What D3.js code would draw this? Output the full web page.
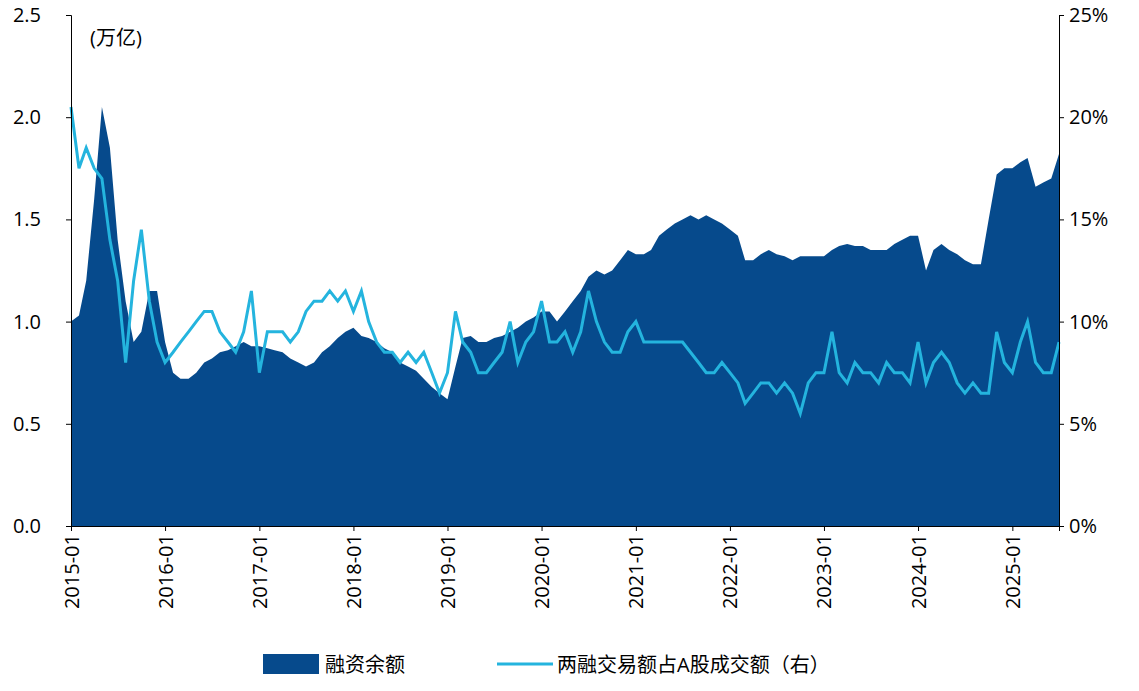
<!DOCTYPE html><html><head><meta charset="utf-8">
<script src="https://cdn.jsdelivr.net/npm/d3@7"></script>
<style>body{margin:0;background:#fff}text{font-family:"Open Sans","Noto Sans CJK SC",sans-serif}</style></head><body>
<svg id="c" width="1139" height="691"></svg>
<script>
const startMonth = "2015-01";
const balance = [1.0,1.03,1.2,1.6,2.05,1.85,1.4,1.1,0.9,0.95,1.15,1.15,
0.9,0.75,0.72,0.72,0.75,0.8,0.82,0.85,0.86,0.88,0.9,0.88,
0.88,0.87,0.86,0.85,0.82,0.8,0.78,0.8,0.85,0.88,0.92,0.95,
0.97,0.93,0.92,0.9,0.87,0.85,0.8,0.78,0.76,0.72,0.68,0.65,
0.62,0.78,0.92,0.93,0.9,0.9,0.92,0.93,0.95,0.97,1.0,1.02,
1.05,1.05,1.0,1.05,1.1,1.15,1.22,1.25,1.23,1.25,1.3,1.35,
1.33,1.33,1.35,1.42,1.45,1.48,1.5,1.52,1.5,1.52,1.5,1.48,
1.45,1.42,1.3,1.3,1.33,1.35,1.33,1.32,1.3,1.32,1.32,1.32,
1.32,1.35,1.37,1.38,1.37,1.37,1.35,1.35,1.35,1.38,1.4,1.42,
1.42,1.25,1.35,1.38,1.35,1.33,1.3,1.28,1.28,1.5,1.72,1.75,
1.75,1.78,1.8,1.66,1.68,1.7,1.82];
const ratio = [20.5,17.5,18.5,17.5,17,14,12,8,12,14.5,11,9,
8,8.5,9,9.5,10,10.5,10.5,9.5,9,8.5,9.5,11.5,
7.5,9.5,9.5,9.5,9,9.5,10.5,11,11,11.5,11,11.5,
10.5,11.5,10,9,8.5,8.5,8,8.5,8,8.5,7.5,6.5,
7.5,10.5,9,8.5,7.5,7.5,8,8.5,10,8,9,9.5,
11,9,9,9.5,8.5,9.5,11.5,10,9,8.5,8.5,9.5,
10,9,9,9,9,9,9,8.5,8,7.5,7.5,8,
7.5,7,6,6.5,7,7,6.5,7,6.5,5.5,7,7.5,
7.5,9.5,7.5,7,8,7.5,7.5,7,8,7.5,7.5,7,
9,7,8,8.5,8,7,6.5,7,6.5,6.5,9.5,8,
7.5,9,10,8,7.5,7.5,9];
const leftTicks = [0,0.5,1.0,1.5,2.0,2.5];
const rightTicks = [0,5,10,15,20,25];
const xTickLabels = ["2015-01","2016-01","2017-01","2018-01","2019-01","2020-01","2021-01","2022-01","2023-01","2024-01","2025-01"];
const legendLabels = ["融资余额","两融交易额占A股成交额（右）"];

const t0 = d3.timeParse("%Y-%m")(startMonth);
const dates = balance.map((_,i)=>d3.timeMonth.offset(t0,i));
const svg = d3.select("#c");
const L=71,R=1059,T=15,B=526;
const x = d3.scaleTime().domain([t0,dates[dates.length-1]]).range([L,R]);
const yL = d3.scaleLinear().domain([0,2.5]).range([B,T]);
const yR = d3.scaleLinear().domain([0,25]).range([B,T]);
const dark="#064a8c", light="#24b4de";

svg.append("path").datum(balance).attr("fill",dark)
 .attr("d",d3.area().x((d,i)=>x(dates[i])).y0(B).y1(d=>yL(d)));
svg.append("path").datum(ratio).attr("fill","none").attr("stroke",light).attr("stroke-width",3)
 .attr("d",d3.line().x((d,i)=>x(dates[i])).y(d=>yR(d)));

const ax = svg.append("g").attr("transform",`translate(0,${B})`)
 .call(d3.axisBottom(x).tickValues(xTickLabels.map(s=>d3.timeParse("%Y-%m")(s))).tickFormat(d3.timeFormat("%Y-%m")).tickSize(5));
ax.selectAll("text").attr("font-size",20).attr("fill","#000").attr("transform","rotate(-90)")
 .attr("text-anchor","end").attr("x",-8).attr("y",0).attr("dy","0.35em");
const al = svg.append("g").attr("transform",`translate(${L},0)`)
 .call(d3.axisLeft(yL).tickValues(leftTicks).tickFormat(d3.format(".1f")).tickSize(5));
al.selectAll("text").attr("font-size",20).attr("fill","#000").attr("x",-30);
const ar = svg.append("g").attr("transform",`translate(${R},0)`)
 .call(d3.axisRight(yR).tickValues(rightTicks).tickFormat(d=>d+"%").tickSize(5));
ar.selectAll("text").attr("font-size",20).attr("fill","#000").attr("x",10);
svg.selectAll(".domain, .tick line").attr("stroke","#000");

svg.append("text").attr("x",90).attr("y",45).attr("font-size",20).text("(万亿)");

svg.append("rect").attr("x",263).attr("y",654).attr("width",56).attr("height",20).attr("fill",dark);
svg.append("text").attr("x",325).attr("y",672).attr("font-size",20).text(legendLabels[0]);
svg.append("line").attr("x1",497).attr("x2",553).attr("y1",664).attr("y2",664).attr("stroke",light).attr("stroke-width",3);
svg.append("text").attr("x",557).attr("y",672).attr("font-size",20).text(legendLabels[1]);
</script></body></html>
